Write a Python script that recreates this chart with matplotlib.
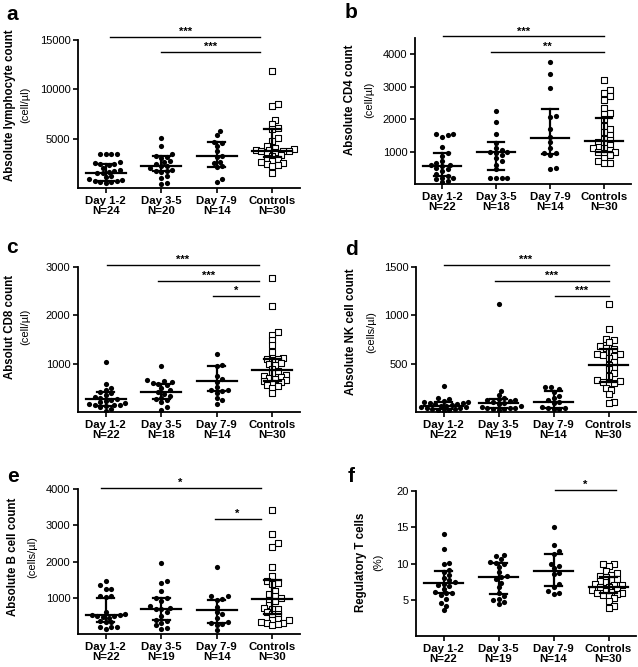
import numpy as np
import matplotlib
matplotlib.use('Agg')
import matplotlib.pyplot as plt

plt.rcParams['font.family'] = ['Liberation Sans', 'DejaVu Sans']

W, H = 638, 667
groups = ['Day 1-2', 'Day 3-5', 'Day 7-9', 'Controls']

# a - absolute lymphocyte count
lym_n = [24, 20, 14, 30]
lym_day12 = [3450, 3450, 3400, 3400, 2600, 2500, 2450, 2400, 2300, 2000, 1800, 1700,
             1650, 1550, 1500, 1200, 1100, 900, 800, 750, 700, 650, 600, 550]
lym_day35 = [5100, 4300, 3400, 3250, 3100, 3000, 2700, 2600, 2400, 2200, 2200, 2050,
             1800, 1750, 1700, 1600, 1200, 1000, 550, 400]
lym_day79 = [5800, 5400, 4700, 4600, 4300, 3700, 3200, 3100, 2600, 2500, 2200, 2100, 950, 650]
lym_ctrl = [11900, 8500, 8300, 6900, 6500, 6100, 6000, 5100, 4800, 4300, 4100, 3950, 3900,
            3850, 3800, 3800, 3700, 3600, 3500, 3300, 3200, 3000, 2900, 2700, 2600, 2500,
            2400, 2300, 2200, 1500]
lym_med = [1550, 2200, 3200, 3800]
lym_q1 = [750, 1700, 2100, 3100]
lym_q3 = [2400, 3200, 4700, 6000]

# b - absolute CD4 count
cd4_n = [22, 18, 14, 30]
cd4_day12 = [1550, 1530, 1500, 1450, 1150, 950, 850, 700, 650, 600, 580, 550, 500, 450,
             400, 300, 250, 200, 200, 150, 100, 50]
cd4_day35 = [2250, 1900, 1550, 1250, 1100, 1050, 1000, 1000, 950, 900, 800, 700, 600,
             450, 200, 200, 180, 180]
cd4_day79 = [3750, 3400, 2950, 2100, 2050, 1700, 1450, 1300, 1100, 950, 950, 900, 500, 450]
cd4_ctrl = [3200, 2900, 2800, 2700, 2600, 2350, 2200, 2150, 2000, 1800, 1700, 1600, 1500,
            1400, 1350, 1300, 1250, 1200, 1150, 1100, 1100, 1050, 1000, 1000, 950, 900,
            800, 700, 650, 650]
cd4_med = [560, 1000, 1430, 1340]
cd4_q1 = [250, 420, 920, 1000]
cd4_q3 = [970, 1280, 2300, 2030]

# c - absolute CD8 count
cd8_n = [22, 18, 14, 30]
cd8_day12 = [1030, 580, 500, 450, 420, 400, 350, 320, 300, 270, 250, 230, 200, 180, 160,
             150, 150, 140, 130, 100, 60, 30]
cd8_day35 = [950, 660, 640, 620, 600, 580, 550, 500, 450, 420, 380, 330, 300, 270, 250,
             200, 100, 50]
cd8_day79 = [1200, 970, 950, 750, 680, 620, 520, 460, 450, 440, 400, 300, 240, 170]
cd8_ctrl = [2780, 2200, 1650, 1600, 1500, 1380, 1250, 1120, 1100, 1100, 1080, 1020, 1000,
            980, 900, 850, 800, 760, 740, 720, 700, 680, 660, 640, 620, 600, 560, 540,
            500, 400]
cd8_med = [260, 420, 650, 870]
cd8_q1 = [130, 270, 440, 650]
cd8_q3 = [420, 580, 950, 1100]

# d - absolute NK cell count
nk_n = [22, 19, 14, 30]
nk_day12 = [270, 140, 130, 110, 100, 100, 95, 90, 85, 80, 70, 65, 60, 55, 50, 45, 40, 35,
            30, 25, 20, 15]
nk_day35 = [1120, 220, 180, 150, 130, 125, 120, 110, 100, 90, 80, 60, 50, 45, 40, 40, 35, 30, 20]
nk_day79 = [260, 255, 240, 210, 170, 150, 120, 100, 90, 50, 45, 40, 35, 30]
nk_ctrl = [1120, 860, 760, 740, 720, 680, 660, 650, 620, 600, 600, 590, 580, 560, 520, 490,
           470, 440, 400, 370, 330, 320, 310, 300, 300, 250, 230, 190, 100, 90]
nk_med = [65, 90, 100, 490]
nk_q1 = [30, 40, 40, 310]
nk_q3 = [100, 130, 220, 650]

# e - absolute B cell count
b_n = [22, 19, 14, 30]
b_day12 = [1450, 1350, 1250, 1250, 1050, 1040, 1020, 600, 550, 530, 520, 510, 500, 480,
           450, 350, 340, 330, 200, 190, 180, 150]
b_day35 = [1950, 1450, 1400, 1200, 1000, 990, 900, 760, 720, 700, 690, 600, 500, 400, 350,
           300, 250, 160, 150]
b_day79 = [1850, 1050, 1040, 960, 940, 750, 620, 550, 450, 320, 300, 280, 250, 120]
b_ctrl = [3420, 2750, 2500, 2400, 1850, 1600, 1450, 1400, 1380, 1200, 1100, 1050, 1000, 950,
          900, 800, 720, 700, 680, 600, 560, 540, 420, 400, 380, 320, 300, 290, 280, 250]
b_med = [520, 700, 660, 970]
b_q1 = [320, 380, 290, 550]
b_q3 = [1000, 1000, 950, 1500]

# f - regulatory T cells
treg_n = [22, 19, 14, 30]
treg_day12 = [14.1, 12.0, 10.1, 10.0, 9.1, 8.8, 8.4, 8.0, 7.7, 7.4, 7.2, 7.0, 6.9, 6.5,
              6.1, 6.0, 5.9, 5.6, 5.1, 4.6, 4.2, 3.6]
treg_day35 = [11.2, 11.0, 10.6, 10.2, 10.1, 10.0, 9.5, 8.8, 8.3, 8.1, 7.8, 7.3, 6.7, 6.0,
              5.5, 5.1, 4.9, 4.7, 4.4]
treg_day79 = [15.1, 12.5, 11.7, 11.3, 10.0, 9.6, 9.4, 8.7, 8.5, 7.2, 6.8, 6.2, 5.9, 5.8]
treg_ctrl = [10.0, 9.9, 9.6, 8.9, 8.7, 8.4, 8.3, 8.1, 7.9, 7.7, 7.6, 7.4, 7.2, 7.1, 7.0,
             6.8, 6.7, 6.5, 6.4, 6.2, 6.1, 6.0, 5.9, 5.8, 5.6, 5.5, 5.2, 4.8, 4.2, 3.8]
treg_med = [7.25, 8.1, 9.0, 6.8]
treg_q1 = [6.0, 5.8, 6.9, 5.9]
treg_q3 = [9.0, 10.1, 11.3, 8.2]

panels = [
    dict(letter='a', box=(78, 40, 300, 188), lab=(10, 25, 105), letter_pos=(12, 15),
         title='Absolute lymphocyte count', unit='(cell/µl)',
         data=[lym_day12, lym_day35, lym_day79, lym_ctrl], n=lym_n,
         med=lym_med, q1=lym_q1, q3=lym_q3, ylim=15000, yticks=[5000, 10000, 15000],
         sig=[(0.08, 2.78, 15300, '***'), (1.0, 2.78, 13800, '***')]),
    dict(letter='b', box=(415, 38, 631, 184), lab=(350, 369, 100), letter_pos=(351, 13),
         title='Absolute CD4 count', unit='(cell/µl)',
         data=[cd4_day12, cd4_day35, cd4_day79, cd4_ctrl], n=cd4_n,
         med=cd4_med, q1=cd4_q1, q3=cd4_q3, ylim=4500, yticks=[1000, 2000, 3000, 4000],
         sig=[(0.02, 3.0, 4550, '***'), (0.9, 3.0, 4080, '**')]),
    dict(letter='c', box=(78, 267, 300, 412), lab=(10, 25, 327), letter_pos=(12, 248),
         title='Absolut CD8 count', unit='(cell/µl)',
         data=[cd8_day12, cd8_day35, cd8_day79, cd8_ctrl], n=cd8_n,
         med=cd8_med, q1=cd8_q1, q3=cd8_q3, ylim=3000, yticks=[1000, 2000, 3000],
         sig=[(0.02, 2.76, 3050, '***'), (0.95, 2.76, 2720, '***'), (1.93, 2.76, 2400, '*')]),
    dict(letter='d', box=(416, 267, 636, 412), lab=(351, 371, 332), letter_pos=(351, 250),
         title='Absolute NK cell count', unit='(cells/µl)',
         data=[nk_day12, nk_day35, nk_day79, nk_ctrl], n=nk_n,
         med=nk_med, q1=nk_q1, q3=nk_q3, ylim=1500, yticks=[500, 1000, 1500],
         sig=[(0.0, 3.0, 1520, '***'), (0.93, 3.0, 1358, '***'), (2.02, 3.0, 1204, '***')]),
    dict(letter='e', box=(78, 489, 300, 634), lab=(13, 32, 557), letter_pos=(13, 477),
         title='Absolute B cell count', unit='(cells/µl)',
         data=[b_day12, b_day35, b_day79, b_ctrl], n=b_n,
         med=b_med, q1=b_q1, q3=b_q3, ylim=4000, yticks=[1000, 2000, 3000, 4000],
         sig=[(-0.09, 2.79, 4040, '*'), (1.96, 2.79, 3180, '*')]),
    dict(letter='f', box=(416, 491, 636, 636), lab=(361, 378, 562), letter_pos=(351, 477),
         title='Regulatory T cells', unit='(%)',
         data=[treg_day12, treg_day35, treg_day79, treg_ctrl], n=treg_n,
         med=treg_med, q1=treg_q1, q3=treg_q3, ylim=20, yticks=[5, 10, 15, 20],
         sig=[(2.03, 3.14, 20.1, '*')]),
]


def swarm_x(ax, xc, vals, d_px):
    # simple beeswarm: offsets in pixels, turned back into data units
    pix = ax.transData.transform(np.column_stack([np.full(len(vals), xc), vals]))
    px_per_unit = ax.transData.transform((1, 0))[0] - ax.transData.transform((0, 0))[0]
    py = pix[:, 1]
    order = np.argsort(py)
    placed = []
    offs = np.zeros(len(vals))
    step = d_px * 0.6
    for i in order:
        cands = [0.0]
        for k in range(1, 30):
            cands += [k * step, -k * step]
        for c in cands:
            ok = True
            for (ox, oy) in placed:
                if (c - ox) ** 2 + (py[i] - oy) ** 2 < d_px ** 2:
                    ok = False
                    break
            if ok:
                offs[i] = c
                placed.append((c, py[i]))
                break
    return xc + offs / px_per_unit


fig = plt.figure(figsize=(W / 100, H / 100), dpi=100)

for p in panels:
    x0, y0, x1, y1 = p['box']
    ax = fig.add_axes([x0 / W, 1 - y1 / H, (x1 - x0) / W, (y1 - y0) / H])
    ax.set_xlim(-0.5, 3.5)
    ax.set_ylim(0, p['ylim'])
    for sp in ['top', 'right']:
        ax.spines[sp].set_visible(False)
    ax.spines['left'].set_linewidth(1.3)
    ax.spines['bottom'].set_linewidth(1.3)

    for g, vals in enumerate(p['data']):
        xs = swarm_x(ax, g, vals, 4.6)
        if g < 3:
            ax.scatter(xs, vals, s=14, c='black', marker='o', linewidths=0, zorder=3)
        else:
            ax.scatter(xs, vals, s=15, facecolors='white', edgecolors='black',
                       marker='s', linewidths=0.8, zorder=3)
        ax.plot([g - 0.36, g + 0.36], [p['med'][g]] * 2, color='black', lw=1.6, zorder=4)
        ax.plot([g - 0.15, g + 0.15], [p['q1'][g]] * 2, color='black', lw=1.6, zorder=4)
        ax.plot([g - 0.15, g + 0.15], [p['q3'][g]] * 2, color='black', lw=1.6, zorder=4)
        ax.plot([g, g], [p['q1'][g], p['q3'][g]], color='black', lw=1.6, zorder=4)

    for (sx0, sx1, sy, lab) in p['sig']:
        ax.plot([sx0, sx1], [sy, sy], color='black', lw=1.0, clip_on=False)
        ax.text((sx0 + sx1) / 2, sy, lab, ha='center', va='bottom', fontsize=8,
                fontweight='bold', clip_on=False)

    ax.set_xticks(range(4))
    ax.set_xticklabels([f'{g}\nN={n}' for g, n in zip(groups, p['n'])],
                       fontsize=8.2, fontweight='bold', linespacing=1.1)
    ax.set_yticks(p['yticks'])
    ax.set_yticklabels([str(t) for t in p['yticks']], fontsize=8)
    ax.tick_params(axis='both', direction='out', length=3.5, width=1.2, pad=2)

    bx, ux, cy = p['lab']
    fig.text(bx / W, 1 - cy / H, p['title'], rotation=90, ha='center', va='center',
             fontsize=8.3, fontweight='bold')
    fig.text(ux / W, 1 - cy / H, p['unit'], rotation=90, ha='center', va='center',
             fontsize=8)
    lx, ly = p['letter_pos']
    fig.text(lx / W, 1 - ly / H, p['letter'], ha='center', va='center',
             fontsize=15, fontweight='bold')

fig.savefig('out.png', dpi=100)
